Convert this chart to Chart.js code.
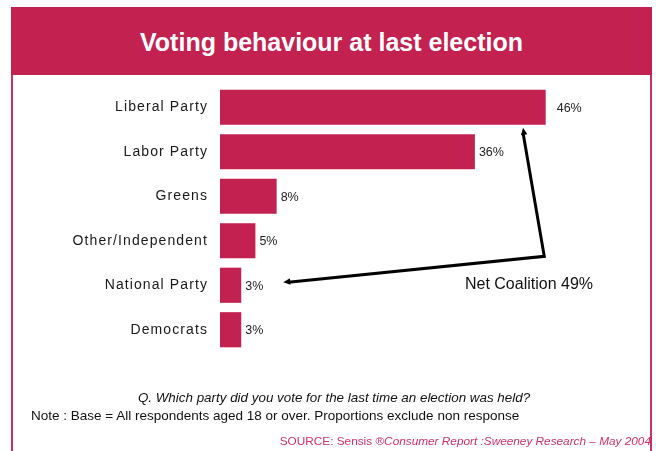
<!DOCTYPE html>
<html>
<head>
<meta charset="utf-8">
<script src="https://cdn.jsdelivr.net/npm/chart.js@4"></script>
<style>
  html, body { margin: 0; padding: 0; background: #fff; }
  body { width: 656px; height: 451px; position: relative; overflow: hidden; font-family: "Liberation Sans", Arial, sans-serif; }
  #frame { position: absolute; left: 11px; top: 7px; width: 637px; height: 460px; border-left: 2px solid #c8315f; border-right: 2px solid #c8315f; }
  #header { position: absolute; left: 11px; top: 7px; width: 641px; height: 68px; background: #c3214f; color: #fff;
    font-weight: bold; font-size: 25px; text-align: center; line-height: 70px; }
  #chartBox { position: absolute; left: 0; top: 0; width: 656px; height: 451px; }
  .note { position: absolute; font-size: 13.5px; color: #111; white-space: nowrap; }
  #question { left: 0; width: 656px; text-align: center; top: 390px; font-style: italic; padding-left: 12px; box-sizing: border-box; font-size: 13.4px; }
  #base { left: 31px; top: 408px; }
  #source { right: 5px; top: 434px; font-size: 11.8px; color: #d0306a; }
</style>
</head>
<body>
<div id="frame"></div>
<div id="header">Voting behaviour at last election</div>
<div id="chartBox"><canvas id="votingChart" width="656" height="451"></canvas></div>
<div class="note" id="question">Q. Which party did you vote for the last time an election was held?</div>
<div class="note" id="base">Note : Base = All respondents aged 18 or over. Proportions exclude non response</div>
<div class="note" id="source">SOURCE: Sensis&nbsp;&reg;<i>Consumer Report :Sweeney Research &ndash; May 2004</i></div>

<script>
// data
const parties = ['Liberal Party', 'Labor Party', 'Greens', 'Other/Independent', 'National Party', 'Democrats'];
const votePct = [46, 36, 8, 5, 3, 3];
const coalitionLabel = 'Net Coalition 49%';

const barColor = '#c3214f';
const labelGap = [11, 4, 4, 4, 4, 4];

// labels at the end of each bar + the coalition arrows
const annotations = {
  id: 'annotations',
  beforeDraw(chart) {
    chart.ctx.letterSpacing = '1.1px';
  },
  beforeDatasetsDraw(chart) {
    chart.ctx.letterSpacing = '0px';
  },
  afterDatasetsDraw(chart) {
    const ctx = chart.ctx;
    const x = chart.scales.x;
    const y = chart.scales.y;
    const bars = chart.getDatasetMeta(0).data;

    ctx.save();
    ctx.letterSpacing = '0px';
    ctx.fillStyle = '#222';
    ctx.font = '12.5px "Liberation Sans", Arial, sans-serif';
    ctx.textBaseline = 'middle';
    ctx.textAlign = 'left';
    bars.forEach((bar, i) => {
      ctx.fillText(votePct[i] + '%', bar.x + labelGap[i], bar.y + 1);
    });

    // arrows: corner sits between "Other" and "National" rows
    const corner = { x: x.getPixelForValue(45.8), y: y.getPixelForValue(3.35) };
    const upTip = { x: x.getPixelForValue(42.8), y: bars[0].y + bars[0].height / 2 + 3 };
    const leftTip = { x: bars[4].x + 42, y: bars[4].y - 3 };

    ctx.strokeStyle = '#000';
    ctx.fillStyle = '#000';
    ctx.lineWidth = 3;
    ctx.lineJoin = 'miter';
    ctx.beginPath();
    ctx.moveTo(upTip.x, upTip.y + 5);
    ctx.lineTo(corner.x, corner.y);
    ctx.lineTo(leftTip.x + 5, leftTip.y);
    ctx.stroke();

    function head(tip, from) {
      const ang = Math.atan2(tip.y - from.y, tip.x - from.x);
      const len = 7, w = 3.2;
      ctx.beginPath();
      ctx.moveTo(tip.x, tip.y);
      ctx.lineTo(tip.x - len * Math.cos(ang) + w * Math.sin(ang), tip.y - len * Math.sin(ang) - w * Math.cos(ang));
      ctx.lineTo(tip.x - len * Math.cos(ang) - w * Math.sin(ang), tip.y - len * Math.sin(ang) + w * Math.cos(ang));
      ctx.closePath();
      ctx.fill();
    }
    head(upTip, corner);
    head(leftTip, corner);

    ctx.fillStyle = '#111';
    ctx.font = '16px "Liberation Sans", Arial, sans-serif';
    ctx.textAlign = 'left';
    ctx.fillText(coalitionLabel, x.getPixelForValue(34.6), y.getPixelForValue(3.98));
    ctx.restore();
  }
};

new Chart(document.getElementById('votingChart'), {
  type: 'bar',
  data: {
    labels: parties,
    datasets: [{
      data: votePct,
      backgroundColor: barColor,
      borderWidth: 0,
      categoryPercentage: 1,
      barPercentage: 0.79
    }]
  },
  options: {
    indexAxis: 'y',
    responsive: false,
    animation: false,
    devicePixelRatio: 1,
    layout: { padding: { left: 12, right: 82, top: 85, bottom: 99 } },
    plugins: {
      legend: { display: false },
      tooltip: { enabled: false }
    },
    scales: {
      x: {
        display: false,
        min: 0,
        max: 50
      },
      y: {
        grid: { display: false, drawTicks: false },
        border: { display: false },
        ticks: {
          padding: 12,
          color: '#1a1a1a',
          font: { family: '"Liberation Sans", Arial, sans-serif', size: 14 }
        },
        afterFit(scale) { scale.width = 208; }
      }
    }
  },
  plugins: [annotations]
});
</script>
</body>
</html>
